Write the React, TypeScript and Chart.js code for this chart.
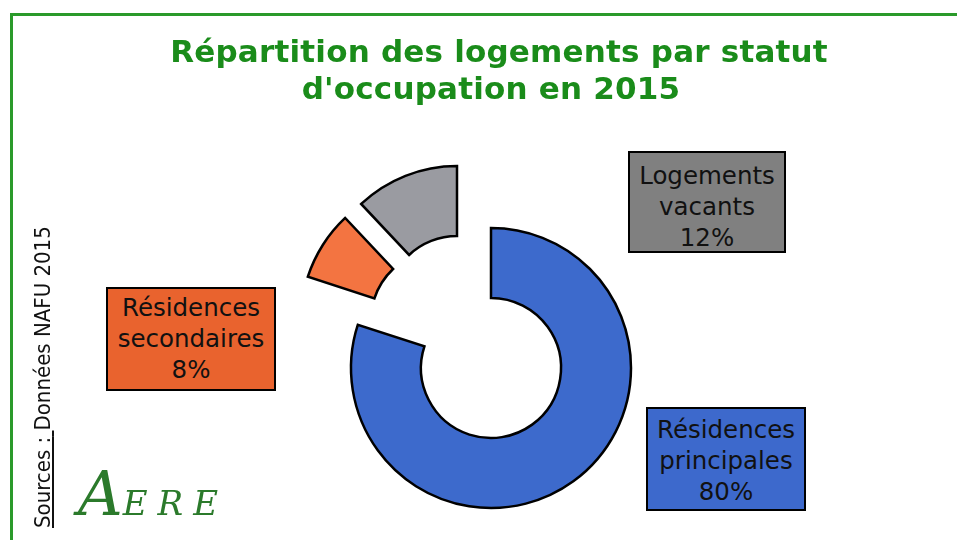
import React, { useEffect, useRef } from "react";
import { Chart, registerables, ArcElement } from "chart.js";

Chart.register(...registerables);

// ---- data ----
const categories = ["Résidences principales", "Résidences secondaires", "Logements vacants"];
const shares = [80, 8, 12];
const shareLabels = ["80%", "8%", "12%"];
const titleLines = ["Répartition des logements par statut", "d'occupation en 2015"];
const sourceLead = "Sources :";
const sourceText = "Données NAFU 2015";

// ---- styles / layout ----
const sliceColors = ["#3D6ACC", "#F37441", "#9A9BA1"];
const boxColors = ["#3D69CC", "#E9632E", "#808080"];
// explosion shift (px) of each slice
const explode = [
  { dx: 0, dy: 0 },
  { dx: -50, dy: -48 },
  { dx: -34, dy: -62 },
];
const boxes = [
  { left: 646, top: 407, width: 160, height: 104, baseline: 438 },
  { left: 106, top: 287, width: 170, height: 104, baseline: 316 },
  { left: 628, top: 151, width: 158, height: 102, baseline: 184 },
];

const explodePlugin = {
  id: "explodeSlices",
  beforeDatasetDraw(chart: any, args: any) {
    const els = args.meta.data || [];
    els.forEach((el: any, i: number) => {
      if (el.__patched) return;
      el.__patched = true;
      const s = explode[i] || { dx: 0, dy: 0 };
      el.draw = function (ctx: CanvasRenderingContext2D) {
        ctx.save();
        ctx.translate(s.dx, s.dy);
        ArcElement.prototype.draw.call(this, ctx);
        ctx.restore();
      };
    });
  },
};

export default function App() {
  const ref = useRef<HTMLCanvasElement | null>(null);

  useEffect(() => {
    if (!ref.current) return;
    const chart = new Chart(ref.current, {
      type: "doughnut",
      data: {
        labels: categories,
        datasets: [
          {
            data: shares,
            backgroundColor: sliceColors,
            borderColor: "#000000",
            borderWidth: 2.5,
            borderJoinStyle: "miter",
            clip: false,
          } as any,
        ],
      },
      options: {
        responsive: false,
        animation: false,
        events: [],
        radius: 140,
        cutout: "50%",
        rotation: 0,
        layout: { padding: { left: 351, right: 326, top: 228, bottom: 32 } },
        plugins: {
          legend: { display: false },
          tooltip: { enabled: false },
          title: { display: false },
        },
      } as any,
      plugins: [explodePlugin],
    });
    return () => chart.destroy();
  }, []);

  const boxFont = "'DejaVu Sans', sans-serif";
  const fs = 24.5;
  const lh = 31;
  const tfs = 31;
  const tlh = 38;
  const tTop = (baseline: number) => baseline - ((tlh - 1.164 * tfs) / 2 + 0.928 * tfs);

  return (
    <div
      style={{
        position: "absolute",
        left: 0,
        top: 0,
        width: 957,
        height: 540,
        overflow: "hidden",
        background: "#ffffff",
      }}
    >
      <div
        style={{
          position: "absolute",
          left: 10,
          top: 13,
          width: 1000,
          height: 600,
          border: "3px solid #2A9A2A",
          boxSizing: "border-box",
        }}
      />
      <canvas
        ref={ref}
        width={957}
        height={540}
        style={{ position: "absolute", left: 0, top: 0, width: 957, height: 540, display: "block" }}
      />
      {titleLines.map((t, i) => (
        <div
          key={i}
          style={{
            position: "absolute",
            left: 0,
            width: i === 0 ? 998 : 982,
            top: tTop(i === 0 ? 62 : 99),
            textAlign: "center",
            fontFamily: "'DejaVu Sans', sans-serif",
            fontWeight: "bold",
            fontSize: tfs,
            lineHeight: tlh + "px",
            letterSpacing: "0.2px",
            color: "#1A8C1A",
            whiteSpace: "nowrap",
          }}
        >
          {t}
        </div>
      ))}
      {categories.map((c, i) => {
        const b = boxes[i];
        const lines = [...c.split(" "), shareLabels[i]];
        const asc = 0.928 * fs;
        const content = 1.164 * fs;
        const textTop = b.baseline - ((lh - content) / 2 + asc);
        return (
          <React.Fragment key={c}>
            <div
              style={{
                position: "absolute",
                left: b.left,
                top: b.top,
                width: b.width,
                height: b.height,
                background: boxColors[i],
                border: "2px solid #000",
                boxSizing: "border-box",
              }}
            />
            <div
              style={{
                position: "absolute",
                left: b.left,
                width: b.width,
                top: textTop,
                textAlign: "center",
                fontFamily: boxFont,
                fontSize: fs,
                lineHeight: lh + "px",
                color: "#111111",
                whiteSpace: "nowrap",
              }}
            >
              {lines.map((l, k) => (
                <div key={k}>{l}</div>
              ))}
            </div>
          </React.Fragment>
        );
      })}
      <div
        style={{
          position: "absolute",
          left: 30,
          top: 528,
          transformOrigin: "0 0",
          transform: "rotate(-90deg)",
          fontFamily: "'DejaVu Sans Condensed', 'DejaVu Sans', sans-serif",
          fontStretch: "condensed",
          fontSize: 22,
          lineHeight: "26px",
          color: "#111111",
          whiteSpace: "nowrap",
        }}
      >
        <span style={{ textDecoration: "underline" }}>{sourceLead} </span>
        {sourceText}
      </div>
      <div
        style={{
          position: "absolute",
          left: 78,
          top: 462,
          fontFamily: "'DejaVu Serif', serif",
          fontStyle: "italic",
          color: "#2B7A2B",
          whiteSpace: "nowrap",
          lineHeight: "64px",
        }}
      >
        <span style={{ fontSize: 62 }}>A</span>
        <span style={{ fontSize: 34, letterSpacing: "10px" }}>ERE</span>
      </div>
    </div>
  );
}
